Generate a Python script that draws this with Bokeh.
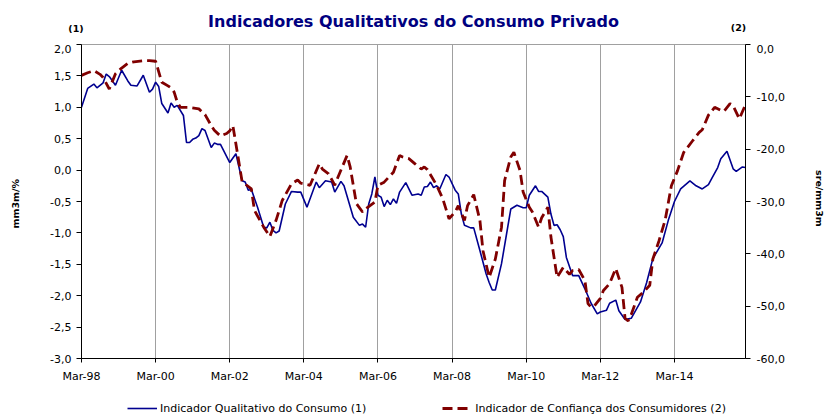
import math
import numpy as np
from bokeh.plotting import figure
from bokeh.layouts import column, row
from bokeh.models import (Range1d, LinearAxis, FixedTicker, CustomJSTickFormatter,
                          Legend, LegendItem)
from bokeh.core.properties import value
from bokeh.embed import file_html
from bokeh.resources import INLINE

TITLE = "Indicadores Qualitativos do Consumo Privado"
LEFT_LABEL = "mm3m/%"
RIGHT_LABEL = "sre/mm3m"
BLUE_NAME = "Indicador Qualitativo do Consumo (1)"
RED_NAME = "Indicador de Confiança dos Consumidores (2)"

# months since Mar-98
X_TICK_MONTHS = [0, 24, 48, 72, 96, 120, 144, 168, 192]
X_TICK_LABELS = ["Mar-98", "Mar-00", "Mar-02", "Mar-04", "Mar-06",
                 "Mar-08", "Mar-10", "Mar-12", "Mar-14"]
LEFT_TICKS = [-3.0, -2.5, -2.0, -1.5, -1.0, -0.5, 0.0, 0.5, 1.0, 1.5, 2.0]
RIGHT_TICKS = [-60, -50, -40, -30, -20, -10, 0]

BLUE_MONTH = [0, 2, 4, 5, 7, 8, 9, 11, 13, 15, 16, 18, 20, 22, 23, 24, 25, 26, 28, 29,
              30, 31, 33, 34, 35, 36, 37, 38, 39, 40, 42, 43, 44, 45, 48, 50, 52, 53, 54, 55,
              57, 59, 60, 61, 62, 63, 64, 66, 68, 70, 71, 73, 76, 77, 79, 81, 82, 84, 85, 88,
              90, 91, 92, 93, 94, 95, 96, 97, 98, 99, 100, 101, 102, 103, 105, 107, 109, 110,
              111, 112, 113, 114, 115, 116, 118, 119, 121, 122, 123, 124, 126, 127, 129, 131,
              132, 133, 134, 136, 138, 139, 141, 143, 144, 145, 147, 148, 149, 151, 152, 153,
              154, 155, 156, 157, 159, 161, 163, 165, 167, 168, 170, 171, 173, 174, 176, 178,
              181, 183, 185, 188, 190, 192, 194, 197, 199, 201, 203, 204, 206, 207, 209, 211,
              212, 214, 215]
BLUE_VALUE = [1.00, 1.30, 1.37, 1.31, 1.39, 1.53, 1.49, 1.35, 1.59, 1.42, 1.35, 1.34, 1.51,
              1.24, 1.29, 1.40, 1.33, 1.06, 0.91, 1.07, 1.00, 1.03, 0.87, 0.44, 0.44, 0.49,
              0.51, 0.55, 0.66, 0.63, 0.36, 0.43, 0.41, 0.41, 0.12, 0.26, -0.17, -0.19, -0.32,
              -0.31, -0.59, -0.91, -0.92, -0.83, -0.96, -1.00, -0.97, -0.54, -0.34, -0.35,
              -0.35, -0.59, -0.19, -0.28, -0.17, -0.19, -0.35, -0.18, -0.25, -0.75, -0.88,
              -0.86, -0.91, -0.54, -0.38, -0.11, -0.40, -0.43, -0.58, -0.48, -0.55, -0.46,
              -0.53, -0.35, -0.20, -0.40, -0.38, -0.40, -0.27, -0.26, -0.19, -0.28, -0.25,
              -0.30, -0.07, -0.11, -0.32, -0.38, -0.70, -0.88, -0.92, -0.92, -1.28, -1.65,
              -1.79, -1.91, -1.91, -1.49, -0.91, -0.62, -0.56, -0.60, -0.60, -0.40, -0.25,
              -0.34, -0.34, -0.43, -0.70, -0.88, -0.87, -0.95, -1.06, -1.39, -1.68, -1.68,
              -1.89, -2.12, -2.29, -2.26, -2.23, -2.12, -2.07, -2.24, -2.38, -2.36, -2.10,
              -1.79, -1.41, -1.16, -0.80, -0.50, -0.30, -0.17, -0.25, -0.30, -0.23, -0.14,
              0.04, 0.18, 0.30, 0.02, -0.02, 0.05, 0.04]

RED_MONTH = [0, 2, 4, 6, 7, 9, 11, 13, 15, 17, 20, 22, 24, 26, 28, 29, 30, 31, 32, 35,
             38, 40, 42, 43, 45, 47, 48, 49, 50, 52, 55, 56, 59, 61, 63, 65, 68, 70, 71, 74,
             77, 78, 80, 82, 83, 86, 87, 89, 91, 92, 95, 96, 98, 101, 103, 104, 106, 108,
             110, 111, 112, 115, 117, 119, 121, 122, 124, 125, 127, 129, 130, 132, 134, 136,
             137, 139, 140, 142, 143, 145, 146, 148, 149, 151, 152, 154, 156, 158, 159, 161,
             163, 164, 165, 166, 168, 169, 171, 173, 175, 176, 177, 178, 180, 182, 184, 185,
             187, 189, 191, 193, 195, 198, 200, 201, 203, 205, 207, 208, 210, 211, 213, 215]
RED_VALUE = [-5.9, -5.4, -5.0, -5.7, -6.3, -8.5, -5.6, -4.5, -3.6, -3.3, -3.1, -3.1, -3.2,
             -7.2, -7.9, -8.3, -9.1, -11.0, -12.0, -12.0, -12.3, -13.4, -15.5, -16.4, -17.5,
             -17.0, -16.5, -15.5, -19.0, -26.2, -27.6, -31.7, -34.9, -36.7, -33.6, -29.8,
             -26.6, -25.9, -26.5, -26.9, -22.8, -23.8, -24.7, -26.9, -25.4, -21.2, -23.4,
             -30.4, -32.0, -31.4, -30.1, -26.9, -26.3, -24.4, -21.2, -21.5, -21.8, -22.8,
             -23.8, -23.4, -23.9, -26.9, -29.5, -33.3, -32.0, -30.8, -33.6, -30.8, -28.7,
             -33.6, -39.4, -44.5, -41.0, -34.9, -26.0, -21.5, -20.6, -24.1, -28.2, -31.1,
             -32.0, -34.9, -33.1, -31.1, -36.8, -44.5, -42.6, -43.9, -43.2, -43.0, -45.1,
             -49.5, -50.2, -50.0, -48.5, -47.0, -45.7, -42.8, -46.4, -52.3, -52.8, -51.6,
             -48.3, -47.3, -46.0, -41.0, -37.5, -33.5, -27.0, -24.1, -20.6, -18.3, -16.8,
             -16.3, -13.5, -12.0, -12.6, -12.8, -11.3, -11.7, -14.2, -11.5]

FONT = "DejaVu Sans"
BLUE = "#000090"
RED = "#800000"

# page layout (pixels)
W = 827
TOP_H = 44          # frame top at y=44
FRAME_H = 314       # frame bottom at y=358
BOT_Y = 395         # legend strip starts here
H = 417
MID_H = BOT_Y - TOP_H
BOT_H = H - BOT_Y
LEFT_W = 38
RIGHT_W = 36
FRAME_L = 81
FRAME_R = 745


def strip(width, height):
    f = figure(width=width, height=height, output_backend="svg", toolbar_location=None,
               x_range=Range1d(0, width), y_range=Range1d(height, 0),
               x_axis_type=None, y_axis_type=None,
               min_border_left=0, min_border_right=0, min_border_top=0, min_border_bottom=0,
               outline_line_color=None, background_fill_color="white",
               border_fill_color="white")
    f.xgrid.visible = False
    f.ygrid.visible = False
    return f


# --- top strip: title and series markers
top = strip(W, TOP_H)
top.text(x=[413], y=[21], text=[TITLE], text_align="center", text_baseline="middle",
         text_font=value(FONT), text_font_style="bold", text_font_size="16px",
         text_color="#000080")
top.text(x=[75.5, 738], y=[27.5, 26.5], text=["(1)", "(2)"], text_align="center",
         text_baseline="middle", text_font=value(FONT), text_font_style="bold",
         text_font_size="9.5px", text_color="black")

# --- side strips: axis titles
left = strip(LEFT_W, MID_H)
left.text(x=[15], y=[222 - TOP_H], text=[LEFT_LABEL], angle=math.pi / 2,
          text_align="center", text_baseline="middle", text_font=value(FONT),
          text_font_style="bold", text_font_size="9.5px", text_color="black")
right = strip(RIGHT_W, MID_H)
right.text(x=[819 - (W - RIGHT_W)], y=[216 - TOP_H], text=[RIGHT_LABEL], angle=-math.pi / 2,
           text_align="center", text_baseline="middle", text_font=value(FONT),
           text_font_style="bold", text_font_size="9.5px", text_color="black")

# --- main chart
p = figure(width=W - LEFT_W - RIGHT_W, height=MID_H, output_backend="svg",
           toolbar_location=None, x_range=Range1d(0, 215), y_range=Range1d(-3, 2),
           min_border_left=FRAME_L - LEFT_W, min_border_right=(W - RIGHT_W) - FRAME_R,
           min_border_top=0, min_border_bottom=MID_H - FRAME_H,
           background_fill_color="white", border_fill_color="white",
           outline_line_color="#a0a0a0", outline_line_width=1)
p.extra_y_ranges = {"right": Range1d(-60, 0)}

fmt_js = "return tick.toFixed(1).replace('.', ',');"

xa = p.xaxis[0]
xa.ticker = FixedTicker(ticks=X_TICK_MONTHS)
xa.major_label_overrides = dict(zip(X_TICK_MONTHS, X_TICK_LABELS))
xa.minor_tick_line_color = None
xa.major_tick_in = 0
xa.major_tick_out = 4
xa.major_label_standoff = 7
xa.axis_line_color = "black"
xa.major_tick_line_color = "black"
xa.major_label_text_font = FONT
xa.major_label_text_font_size = "11px"
xa.major_label_text_color = "black"

p.xgrid.ticker = FixedTicker(ticks=X_TICK_MONTHS)
p.xgrid.grid_line_color = "#a0a0a0"
p.xgrid.grid_line_width = 1
p.ygrid.grid_line_color = None

ya = p.yaxis[0]
ya.ticker = FixedTicker(ticks=LEFT_TICKS)
ya.formatter = CustomJSTickFormatter(code=fmt_js)
ya.minor_tick_line_color = None
ya.major_tick_in = 0
ya.major_tick_out = 5
ya.major_label_standoff = 5
ya.axis_line_color = "black"
ya.major_tick_line_color = "black"
ya.major_label_text_font = FONT
ya.major_label_text_font_size = "11px"
ya.major_label_text_color = "black"

ra = LinearAxis(y_range_name="right", ticker=FixedTicker(ticks=RIGHT_TICKS),
                formatter=CustomJSTickFormatter(code=fmt_js))
ra.minor_tick_line_color = None
ra.major_tick_in = 0
ra.major_tick_out = 5
ra.major_label_standoff = 6
ra.axis_line_color = "black"
ra.major_tick_line_color = "black"
ra.major_label_text_font = FONT
ra.major_label_text_font_size = "11px"
ra.major_label_text_color = "black"
p.add_layout(ra, "right")

p.line(BLUE_MONTH, BLUE_VALUE, line_color=BLUE, line_width=1.6)
p.line(RED_MONTH, RED_VALUE, y_range_name="right", line_color=RED,
       line_width=2.8, line_dash="10 5")

# --- bottom strip: legend (legend-only renderers hold a single NaN point)
bot = strip(W, BOT_H)
nan = np.array([np.nan])
lb = bot.line(x=nan, y=nan, line_color=BLUE, line_width=1.6)
lr = bot.line(x=nan, y=nan, line_color=RED, line_width=2.8, line_dash="10 5")
legend = Legend(items=[LegendItem(label=BLUE_NAME, renderers=[lb]),
                       LegendItem(label=RED_NAME, renderers=[lr])],
                orientation="horizontal", location=(127, 2), padding=0, margin=0,
                spacing=76, glyph_width=30, glyph_height=14, label_height=14,
                label_standoff=3, border_line_color=None, background_fill_alpha=0,
                label_text_font=FONT, label_text_font_size="11px",
                label_text_color="black")
bot.add_layout(legend)

layout = column(top, row(left, p, right), bot)
open("out.html", "w").write(file_html(layout, INLINE))
